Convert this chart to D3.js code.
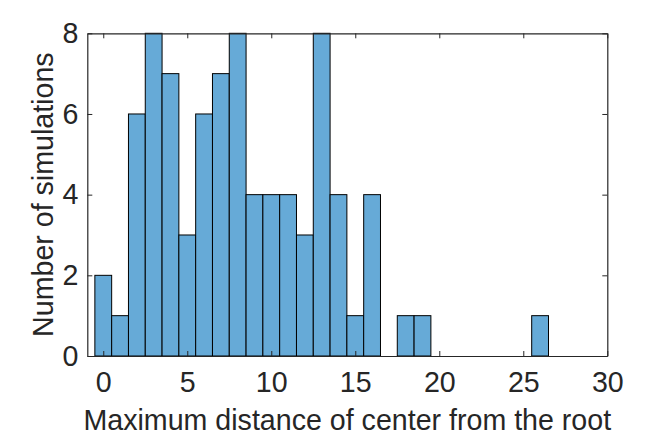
<!DOCTYPE html>
<html>
<head>
<meta charset="utf-8">
<script src="https://cdn.jsdelivr.net/npm/d3@7"></script>
<style>
  body { margin: 0; background: #fff; }
  text { font-family: "Liberation Sans", Arial, Helvetica, sans-serif; fill: #262626; }
</style>
</head>
<body>
<div id="chart"></div>
<script>
// Histogram data: bin centres and counts (bin width 1)
const binCenters = [0, 1, 2, 3, 4, 5, 6, 7, 8, 9, 10, 11, 12, 13, 14, 15, 16, 17, 18, 19, 20, 21, 22, 23, 24, 25, 26];
const counts     = [2, 1, 6, 8, 7, 3, 6, 7, 8, 4, 4,  4,  3,  8,  4,  1,  4,  0,  1,  1,  0,  0,  0,  0,  0,  0,  1];
const xTicks = [0, 5, 10, 15, 20, 25, 30];
const yTicks = [0, 2, 4, 6, 8];

const W = 672, H = 437;
const margin = { top: 33.3, right: 64.7, bottom: 81, left: 87.3 };
const width = W - margin.left - margin.right;
const height = H - margin.top - margin.bottom;
const fontSize = "28.6px";

const svg = d3.select("#chart")
    .append("svg")
    .attr("width", W)
    .attr("height", H)
    .append("g")
    .attr("transform", `translate(${margin.left},${margin.top})`);

const x = d3.scaleLinear().domain([-0.95, 30]).range([0, width]);
const y = d3.scaleLinear().domain([0, 8]).range([height, 0]);

const bins = binCenters.map((c, i) => ({ x0: c - 0.5, x1: c + 0.5, n: counts[i] }))
    .filter(d => d.n > 0);

// Bars
svg.selectAll(".bar")
    .data(bins)
    .enter()
    .append("rect")
    .attr("class", "bar")
    .attr("x", d => x(d.x0))
    .attr("width", d => x(d.x1) - x(d.x0))
    .attr("y", d => y(d.n))
    .attr("height", d => y(0) - y(d.n))
    .attr("fill", "#66aad7")
    .attr("stroke", "#000")
    .attr("stroke-width", 1);

const tickLen = 5;
const axisColor = "#262626";

// Axes (ticks inside, mirrored on opposite sides)
const xAxis = d3.axisBottom(x).tickValues(xTicks).tickSizeInner(-tickLen).tickSizeOuter(0).tickPadding(16);
const xAxisTop = d3.axisTop(x).tickValues(xTicks).tickSizeInner(-tickLen).tickSizeOuter(0).tickFormat("");
const yAxis = d3.axisLeft(y).tickValues(yTicks).tickSizeInner(-tickLen).tickSizeOuter(0).tickPadding(9);
const yAxisRight = d3.axisRight(y).tickValues(yTicks).tickSizeInner(-tickLen).tickSizeOuter(0).tickFormat("");

function style(g) {
    g.selectAll(".domain").attr("stroke", axisColor).attr("stroke-width", 1.2);
    g.selectAll(".tick line").attr("stroke", axisColor).attr("stroke-width", 1);
    g.selectAll(".tick text")
        .attr("fill", "#262626")
        .style("font-size", fontSize)
        .style("font-family", "'Liberation Sans', Arial, Helvetica, sans-serif");
}

svg.append("g").attr("transform", `translate(0,${height})`).call(xAxis).call(style);
svg.append("g").call(xAxisTop).call(style);
svg.append("g").call(yAxis).call(style);
svg.append("g").attr("transform", `translate(${width},0)`).call(yAxisRight).call(style);

// Axis labels
svg.append("text")
    .attr("x", width / 2)
    .attr("y", height + 74)
    .attr("text-anchor", "middle")
    .style("font-size", fontSize)
    .text("Maximum distance of center from the root");

svg.append("text")
    .attr("transform", "rotate(-90)")
    .attr("x", -height / 2)
    .attr("y", -34.6)
    .attr("text-anchor", "middle")
    .style("font-size", fontSize)
    .text("Number of simulations");
</script>
</body>
</html>
